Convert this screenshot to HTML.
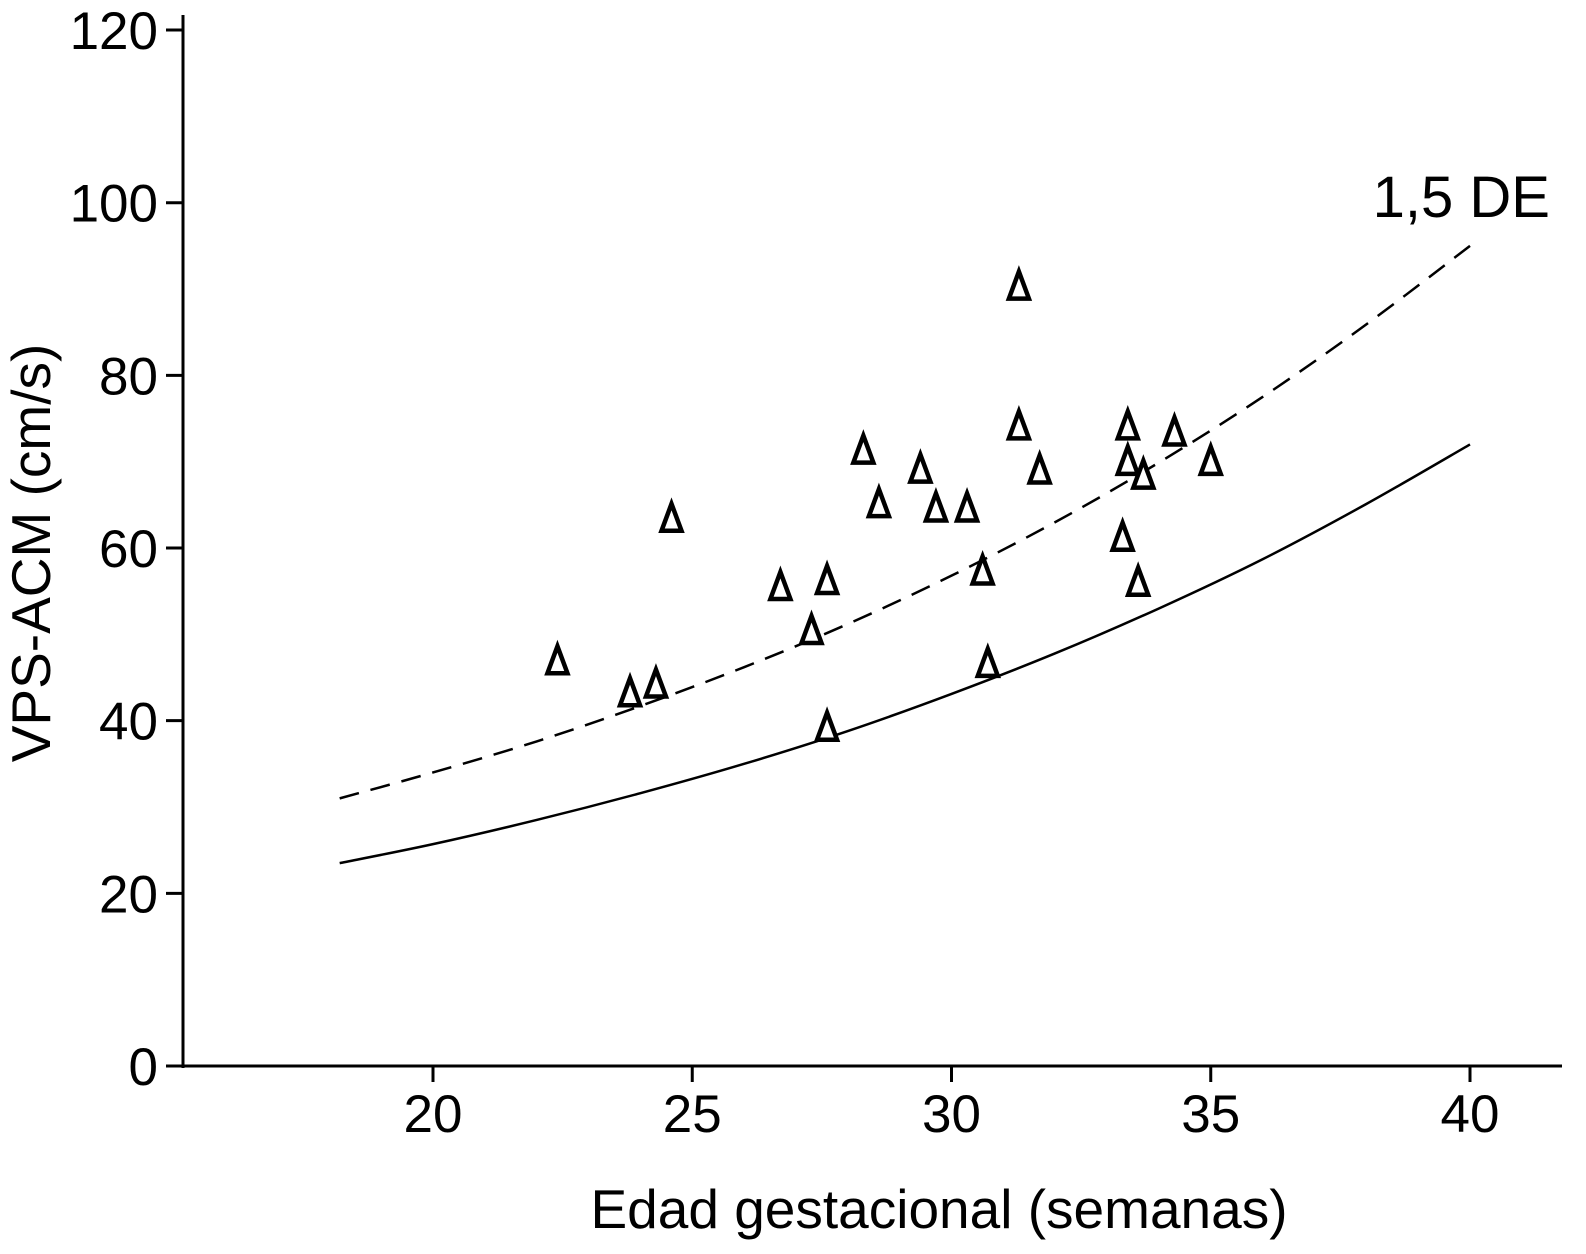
<!DOCTYPE html>
<html><head><meta charset="utf-8"><style>
body{margin:0;background:#fff}
svg{display:block;font-family:"Liberation Sans",Arial,sans-serif}
</style></head><body>
<svg id="chart" width="1586" height="1254" viewBox="0 0 1586 1254" xmlns="http://www.w3.org/2000/svg">
<g id="axes"></g>
<g id="curves"></g>
<g id="points"></g>
<text x="939" y="1228" font-size="55" text-anchor="middle">Edad gestacional (semanas)</text>
<text transform="translate(50,553) rotate(-90)" font-size="55" text-anchor="middle">VPS-ACM (cm/s)</text>
<text x="1550" y="217" font-size="58" text-anchor="end">1,5 DE</text>
</svg>
<script>
const xTicks=[20,25,30,35,40];
const yTicks=[0,20,40,60,80,100,120];
const curveWeeks=[18.2,20,22,24,26,28,30,32,34,36,38,40];
const meanValues=[23.5,25.7,28.5,31.6,35.0,38.8,43.1,47.8,53.0,58.7,65.1,72];
const sdValues=[31,34,37.6,41.7,46.2,51.2,56.8,63,69.9,77.5,85.9,95];
const pointWeeks=[22.4,23.8,24.3,24.6,26.7,27.3,27.6,27.6,28.3,28.6,29.4,29.7,30.3,30.6,30.7,31.3,31.3,31.7,33.3,33.4,33.4,33.6,33.7,34.3,35.0];
const pointValues=[47.0,43.3,44.3,63.5,55.6,50.5,56.3,39.3,71.4,65.2,69.2,64.7,64.7,57.4,46.7,90.4,74.2,69.1,61.3,74.2,70.1,56.1,68.5,73.5,70.1];

const NS="http://www.w3.org/2000/svg";
const X=v=>433+(v-20)*51.85;
const Y=v=>1066-v*8.633;
function mk(tag,attrs,parent){const e=document.createElementNS(NS,tag);for(const k in attrs)e.setAttribute(k,attrs[k]);parent.appendChild(e);return e;}
const axes=document.getElementById('axes');
let l=mk('line',{x1:183,y1:15,x2:183,y2:1068,stroke:'#000','stroke-width':3},axes);


l=mk('line',{x1:181,y1:1066,x2:1562,y2:1066,stroke:'#000','stroke-width':3},axes);


yTicks.forEach(v=>{
 const t=mk('line',{x1:166,y1:Y(v),x2:183,y2:Y(v),stroke:'#000','stroke-width':3},axes);
 
 
 const tx=mk('text',{x:158,y:Y(v)+19,'font-size':53,'text-anchor':'end'},axes);
 tx.textContent=v;
 
 
});
xTicks.forEach(v=>{
 const t=mk('line',{x1:X(v),y1:1066,x2:X(v),y2:1082,stroke:'#000','stroke-width':3},axes);
 
 
 const tx=mk('text',{x:X(v),y:1132,'font-size':53,'text-anchor':'middle'},axes);
 tx.textContent=v;
 
 
});
const curves=document.getElementById('curves');
function path(vals){
 const p=curveWeeks.map((w,i)=>[X(w),Y(vals[i])]);
 let d='M'+p[0][0]+','+p[0][1];
 for(let i=0;i<p.length-1;i++){
  const p0=p[i-1]||p[i],p1=p[i],p2=p[i+1],p3=p[i+2]||p2;
  d+=' C'+(p1[0]+(p2[0]-p0[0])/6)+','+(p1[1]+(p2[1]-p0[1])/6)+' '+(p2[0]-(p3[0]-p1[0])/6)+','+(p2[1]-(p3[1]-p1[1])/6)+' '+p2[0]+','+p2[1];
 }
 return d;
}
let c=mk('path',{d:path(meanValues),fill:'none',stroke:'#000','stroke-width':2.5},curves);


c=mk('path',{d:path(sdValues),fill:'none',stroke:'#000','stroke-width':2.5,'stroke-dasharray':'20 12'},curves);


const pts=document.getElementById('points');
pointWeeks.forEach((w,i)=>{
 const x=X(w),y=Y(pointValues[i]);
 const tr=mk('polygon',{points:`${x},${y-14} ${x-10},${y+13} ${x+10},${y+13}`,fill:'#fff',stroke:'#000','stroke-width':4.5,'stroke-linejoin':'miter'},pts);
 
 
});
</script>
</body></html>
